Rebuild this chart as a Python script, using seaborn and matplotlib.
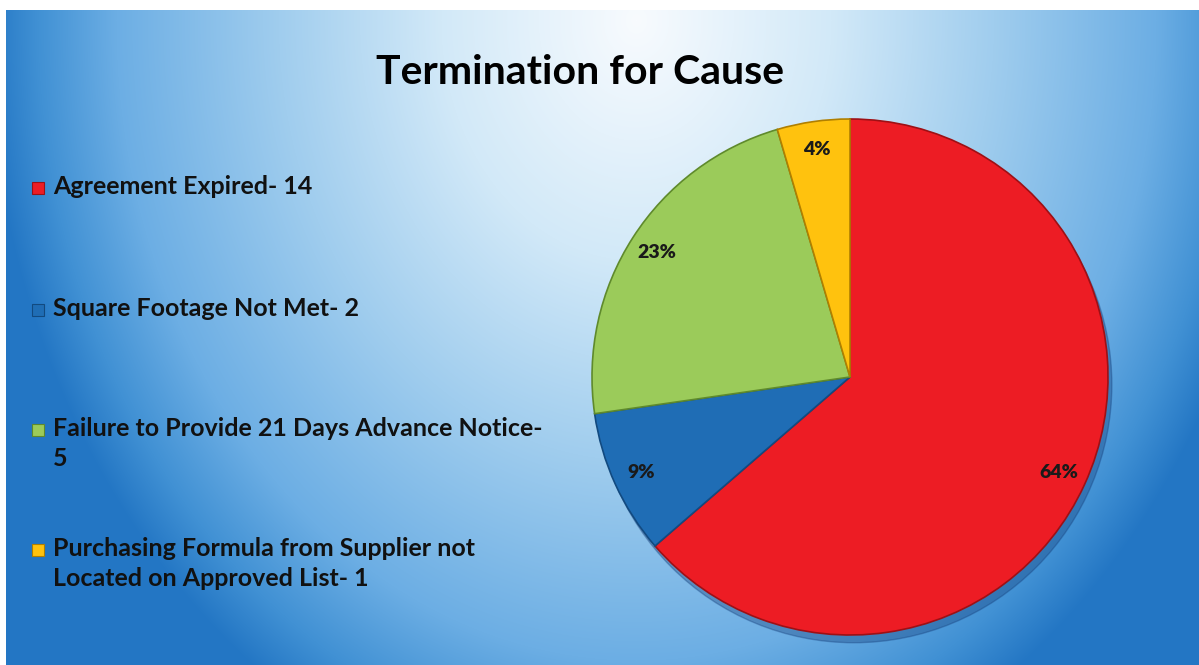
import numpy as np
import matplotlib
matplotlib.use("Agg")
import matplotlib.pyplot as plt
import seaborn as sns
from matplotlib.patches import Rectangle, Circle

sns.set_theme(style="white")
plt.rcParams['font.family'] = ['Lato', 'DejaVu Sans']

# data
categories = ["Agreement Expired- 14",
              "Square Footage Not Met- 2",
              "Failure to Provide 21 Days Advance Notice-\n5",
              "Purchasing Formula from Supplier not\nLocated on Approved List- 1"]
counts = [14, 2, 5, 1]
pct_labels = ["64%", "9%", "23%", "4%"]
colors = ["#ED1C24", "#1F6DB5", "#9BCB5A", "#FFC20E"]
edge_colors = ["#9E1015", "#124A80", "#5F8A2C", "#B07F00"]

W, H = 1199, 665
fig = plt.figure(figsize=(W / 100, H / 100), dpi=100)
fig.patch.set_facecolor("white")

# background gradient (radial, light behind the title, blue toward the edges)
bg = fig.add_axes([6 / W, 0, 1 - 6 / W, (H - 10) / H])
bw, bh = W - 6, H - 10
yy, xx = np.mgrid[0:bh, 0:bw]
d = np.sqrt(((xx - 630) / 650.0) ** 2 + ((yy - 10) / 800.0) ** 2)
stops = np.array([0.0, 0.3, 0.55, 0.8, 0.92, 1.0])
cols = np.array([[248, 251, 254], [210, 233, 248], [160, 205, 238],
                 [108, 174, 228], [65, 145, 212], [35, 118, 196]]) / 255.0
d = np.clip(d, 0, 1)
img = np.stack([np.interp(d, stops, cols[:, k]) for k in range(3)], axis=-1)
bg.imshow(img, aspect="auto", interpolation="bilinear")
bg.set_axis_off()

# pie
cx, cy, r = 850, 377, 258
ax = fig.add_axes([(cx - r) / W, (H - cy - r) / H, 2 * r / W, 2 * r / H])
ax.add_patch(Circle((0.015, -0.03), 1.0, color="#143C78", alpha=0.35, zorder=0,
                    clip_on=False))
wedges, _ = ax.pie(counts, colors=colors, startangle=90, counterclock=False,
                   wedgeprops=dict(linewidth=1.2), radius=1.0)
for w, ec in zip(wedges, edge_colors):
    w.set_edgecolor(ec)
    w.set_zorder(2)
    w.set_clip_on(False)
for w, lab in zip(wedges, pct_labels):
    ang = np.deg2rad((w.theta1 + w.theta2) / 2)
    ax.text(0.89 * np.cos(ang), 0.89 * np.sin(ang), lab, ha="center", va="center",
            fontsize=14, fontweight="heavy", color="#1a1a1a", zorder=3)
ax.set_xlim(-1.0, 1.0)
ax.set_ylim(-1.0, 1.0)
ax.set_aspect("equal")
ax.set_axis_off()

# title
fig.text(580 / W, 1 - 73 / H, "Termination for Cause", ha="center", va="center",
         fontsize=29.5, fontweight="bold", color="black")

# legend
ys = [188, 310, 430, 550]
for y, lab, c, ec in zip(ys, categories, colors, edge_colors):
    fig.patches.append(Rectangle((32 / W, 1 - (y + 6) / H), 12 / W, 12 / H,
                                 transform=fig.transFigure, facecolor=c,
                                 edgecolor=ec, linewidth=0.8))
    fig.text(53 / W, 1 - (y - 13) / H, lab, ha="left", va="top", fontsize=18,
             fontweight="bold", color="#111111", linespacing=1.38)

fig.savefig("out.png", dpi=100)
